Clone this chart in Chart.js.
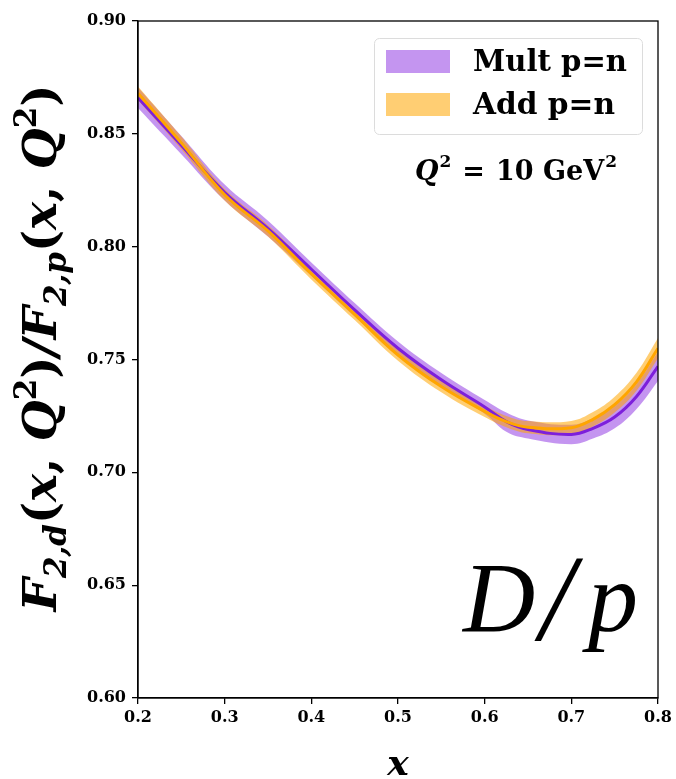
<!DOCTYPE html>
<html>
<head>
<meta charset="utf-8">
<script src="https://cdn.jsdelivr.net/npm/chart.js@4/dist/chart.umd.min.js"></script>
<style>
  html, body { margin: 0; padding: 0; background: #fff; }
  #wrap { width: 676px; height: 779px; }
</style>
</head>
<body>
<div id="wrap"><canvas id="myChart" width="676" height="779"></canvas></div>
<script>
// x values where the curves were read
let xs = [0.20, 0.25, 0.30, 0.35, 0.40, 0.45, 0.50, 0.55, 0.60, 0.625, 0.65, 0.70, 0.725, 0.75, 0.775, 0.80];

// Mult p=n (purple)
let multMid = [0.866, 0.845, 0.824, 0.808, 0.790, 0.772, 0.755, 0.741, 0.729, 0.7225, 0.719, 0.7168, 0.7195, 0.7245, 0.7335, 0.747];
let multLo  = [0.8615, 0.841, 0.8205, 0.8045, 0.787, 0.769, 0.752, 0.738, 0.726, 0.718, 0.715, 0.7125, 0.715, 0.7195, 0.728, 0.7405];
let multHi  = [0.8705, 0.849, 0.8275, 0.8115, 0.793, 0.775, 0.758, 0.744, 0.732, 0.7265, 0.723, 0.7211, 0.724, 0.7295, 0.739, 0.7535];

// Add p=n (orange)
let addMid = [0.868, 0.846, 0.823, 0.807, 0.788, 0.770, 0.752, 0.738, 0.727, 0.7225, 0.720, 0.7198, 0.7235, 0.730, 0.740, 0.755];
let addLo  = [0.865, 0.8432, 0.8205, 0.8045, 0.7855, 0.7675, 0.7495, 0.7355, 0.7245, 0.720, 0.7173, 0.7168, 0.7203, 0.7265, 0.736, 0.7505];
let addHi  = [0.871, 0.8488, 0.8255, 0.8095, 0.7905, 0.7725, 0.7545, 0.7405, 0.7295, 0.725, 0.7227, 0.7228, 0.7267, 0.7335, 0.744, 0.7595];

let labels = ['Mult p=n', 'Add p=n'];
let bandColor = ['rgba(138, 43, 226, 0.5)', 'rgba(255, 165, 0, 0.55)'];
let lineColor = ['#7d1fdc', '#ffa500'];

function pts(arr) {
  return xs.map((x, i) => ({x: x, y: arr[i]}));
}

const serif = '"DejaVu Serif", "Liberation Serif", serif';
const tickFont = {family: serif, size: 16, weight: 'bold'};

// fit a font size so text spans a target width
function fitFont(ctx, text, style, family, base, target) {
  ctx.font = `${style} ${base}px ${family}`;
  let w = ctx.measureText(text).width;
  return base * target / w;
}

const decorations = {
  id: 'decorations',
  afterDatasetsDraw(chart) {
    const c = chart.ctx;
    const a = chart.chartArea;
    c.save();
    // frame
    c.strokeStyle = '#000';
    c.lineWidth = 1.3;
    c.strokeRect(a.left, a.top, a.right - a.left, a.bottom - a.top);

    // legend box
    c.beginPath();
    c.roundRect(374.5, 38.5, 268, 96, 5);
    c.fillStyle = 'rgba(255,255,255,0.8)';
    c.fill();
    c.strokeStyle = '#dcdcdc';
    c.lineWidth = 1;
    c.stroke();
    let patchY = [50, 93];
    for (let i = 0; i < 2; i++) {
      c.fillStyle = bandColor[i];
      c.fillRect(386, patchY[i], 64, 23);
      c.fillStyle = '#000';
      let fs = fitFont(c, labels[i], 'bold', serif, 24, i === 0 ? 154 : 142);
      c.font = `bold ${fs}px ${serif}`;
      c.textBaseline = 'alphabetic';
      c.textAlign = 'left';
      c.fillText(labels[i], 473, patchY[i] + 21);
    }

    // Q^2 = 10 GeV^2
    c.fillStyle = '#000';
    c.textBaseline = 'alphabetic';
    let x = 415, base = 180;
    c.font = `bold italic 27px ${serif}`;
    c.fillText('Q', x, base); x += c.measureText('Q').width + 1;
    c.font = `bold 17px ${serif}`;
    c.fillText('2', x, base - 13); x += c.measureText('2').width + 11;
    c.font = `bold 27px ${serif}`;
    c.fillText('=', x, base); x += c.measureText('=').width + 11;
    c.fillText('10 GeV', x, base); x += c.measureText('10 GeV').width + 1;
    c.font = `bold 17px ${serif}`;
    c.fillText('2', x, base - 13);

    // D/p
    c.textAlign = 'left';
    c.font = 'italic 100px "Liberation Serif", serif';
    c.fillText('D', 463, 631);
    c.fillText('p', 588, 631);
    c.font = 'italic 122px "Liberation Serif", serif';
    c.fillText('/', 540, 640);

    // x axis title
    c.textAlign = 'center';
    c.font = `bold italic 36px ${serif}`;
    c.fillText('x', 398, 775);

    // y axis title with subscripts and superscripts
    let parts = [
      ['F', 'bi', 0], ['2,d', 'bi', 1], ['(', 'b', 0], ['x', 'bi', 0], [', ', 'b', 0], ['Q', 'bi', 0], ['2', 'b', -1], [')', 'b', 0],
      ['/', 'bi', 0],
      ['F', 'bi', 0], ['2,p', 'bi', 1], ['(', 'b', 0], ['x', 'bi', 0], [', ', 'b', 0], ['Q', 'bi', 0], ['2', 'b', -1], [')', 'b', 0]
    ];
    let size = 36;
    function fontFor(p) {
      let s = p[2] === 0 ? size : size * 0.66;
      return `${p[1] === 'bi' ? 'bold italic' : 'bold'} ${s}px ${serif}`;
    }
    let total = 0;
    parts.forEach(p => { c.font = fontFor(p); total += c.measureText(p[0]).width; });
    size = size * 527 / total;
    total = 0;
    parts.forEach(p => { c.font = fontFor(p); total += c.measureText(p[0]).width; });
    c.translate(56, 348);
    c.rotate(-Math.PI / 2);
    c.textAlign = 'left';
    let px = -total / 2;
    parts.forEach(p => {
      c.font = fontFor(p);
      let dy = p[2] === 1 ? size * 0.22 : (p[2] === -1 ? -size * 0.42 : 0);
      c.fillText(p[0], px, dy);
      px += c.measureText(p[0]).width;
    });
    c.restore();
  }
};

let ctx = document.getElementById('myChart').getContext('2d');
let myChart = new Chart(ctx, {
  type: 'line',
  data: {
    datasets: [
      { label: 'multLo', data: pts(multLo), borderWidth: 0, pointRadius: 0, fill: false, order: 6 },
      { label: labels[0], data: pts(multHi), borderWidth: 0, pointRadius: 0, fill: '-1', backgroundColor: bandColor[0], order: 5 },
      { label: 'addLo', data: pts(addLo), borderWidth: 0, pointRadius: 0, fill: false, order: 4 },
      { label: labels[1], data: pts(addHi), borderWidth: 0, pointRadius: 0, fill: '-1', backgroundColor: bandColor[1], order: 3 },
      { label: 'multMid', data: pts(multMid), borderColor: lineColor[0], borderWidth: 3, pointRadius: 0, fill: false, order: 2 },
      { label: 'addMid', data: pts(addMid), borderColor: lineColor[1], borderWidth: 3, pointRadius: 0, fill: false, order: 1 }
    ]
  },
  options: {
    animation: false,
    responsive: false,
    tension: 0.4,
    layout: { padding: { top: 21, right: 18, left: 0, bottom: 0 } },
    plugins: { legend: { display: false }, tooltip: { enabled: false } },
    scales: {
      x: {
        type: 'linear', min: 0.2, max: 0.8,
        ticks: { stepSize: 0.1, color: '#000', font: tickFont, padding: 4, maxRotation: 0,
                 callback: v => v.toFixed(1) },
        grid: { drawOnChartArea: false, drawTicks: true, tickLength: 6, color: '#000', lineWidth: 1.3 },
        border: { color: '#000', width: 1.3 },
        afterFit: s => { s.height = 81; }
      },
      y: {
        min: 0.6, max: 0.9,
        ticks: { stepSize: 0.05, color: '#000', font: tickFont, padding: 6,
                 callback: v => v.toFixed(2) },
        grid: { drawOnChartArea: false, drawTicks: true, tickLength: 6, color: '#000', lineWidth: 1.3 },
        border: { color: '#000', width: 1.3 },
        afterFit: s => { s.width = 138; }
      }
    }
  },
  plugins: [decorations]
});
</script>
</body>
</html>
